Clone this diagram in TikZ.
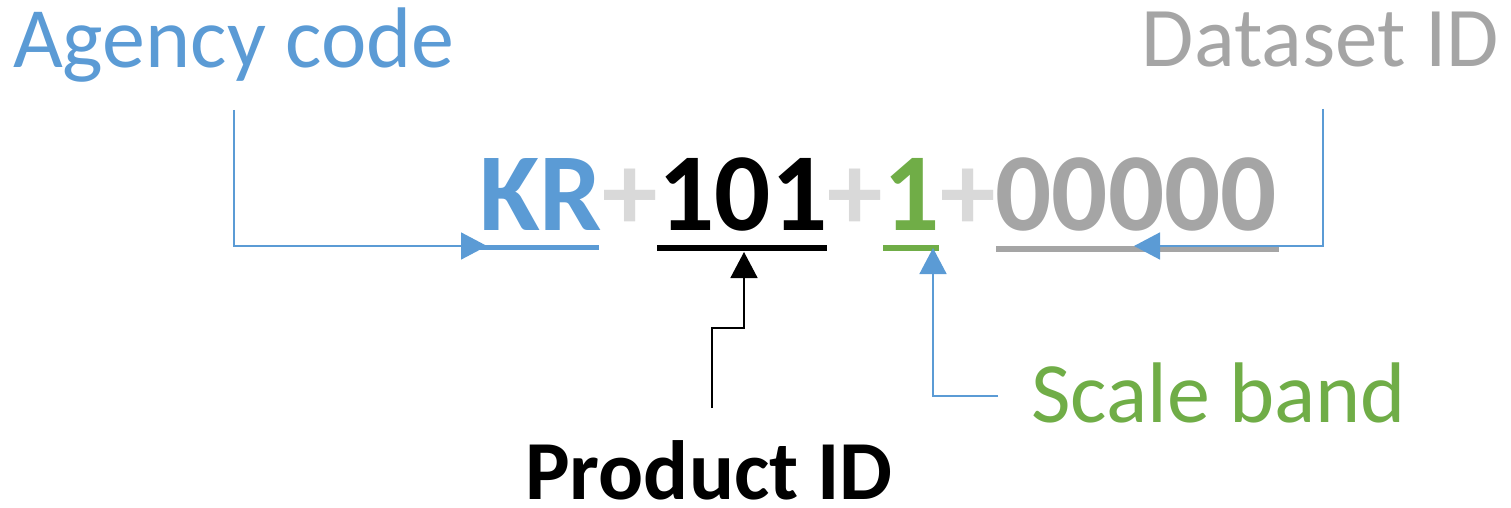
\documentclass[tikz,border=0pt]{standalone}
\usepackage{fontspec}
\setmainfont{Carlito}
\usetikzlibrary{arrows.meta,calc}
\definecolor{cblue}{HTML}{5B9BD5}
\definecolor{cgreen}{HTML}{70AD47}
\definecolor{cgray}{HTML}{A5A5A5}
\definecolor{clight}{HTML}{D9D9D9}
\tikzset{
  lbl/.style={inner sep=0pt,anchor=base west,font=\fontsize{86}{86}\selectfont},
  blbl/.style={inner sep=0pt,anchor=base west,font=\fontsize{84}{84}\selectfont\bfseries},
  code/.style={inner sep=0pt,anchor=base west,font=\fontsize{111}{111}\selectfont\bfseries},
  uline/.style={line width=5.5pt},
  conn/.style={line width=1.6pt,-{Triangle[length=26pt,width=27pt]}},
}
\begin{document}
\begin{tikzpicture}[x=1pt,y=-1pt]
\useasboundingbox (0,0) rectangle (1511,508);
% labels
\node[lbl,text=cblue] (agency) at (13,68) {Agency code};
\node[lbl,text=cgray,anchor=base east,font=\fontsize{85}{85}\selectfont] (dataset) at (1499,67) {Dataset ID};
\node[lbl,text=cgreen] (scale) at (1031,422) {Scale band};
\node[blbl,text=black] (product) at (525,499) {Product ID};
% code line
\node[code,text=cblue] (kr) at (479,230) {KR};
\node[code,text=clight] (p1) at (kr.base east) {+};
\node[code,text=black] (pid) at (p1.base east) {101};
\node[code,text=clight] (p2) at (pid.base east) {+};
\node[code,text=cgreen] (sb) at (p2.base east) {1};
\node[code,text=clight] (p3) at (sb.base east) {+};
\node[code,text=cgray] (ds) at (p3.base east) {00000};
% underlines
\draw[uline,cblue] (480,247.5) -- (599,247.5);
\draw[uline,black] (657,248) -- (827,248);
\draw[uline,cgreen] (883,248) -- (939,248);
\draw[uline,cgray] (996,249) -- (1279,249);
% connector coordinates
\coordinate (a0) at (234,110);
\coordinate (a1) at (487,246);
\coordinate (d0) at (1323,109);
\coordinate (d1) at (1134,246);
\coordinate (q0) at (712,408);
\coordinate (q1) at (744,252);
\coordinate (s0) at (998,396);
\coordinate (s1) at (933,248);
% connectors
\draw[conn,cblue] (a0) |- (a1);
\draw[conn,cblue] (d0) |- (d1);
\draw[conn,black] (q0) -- (712,328) -| (q1);
\draw[conn,cblue] (s0) -| (s1);
\end{tikzpicture}
\end{document}
